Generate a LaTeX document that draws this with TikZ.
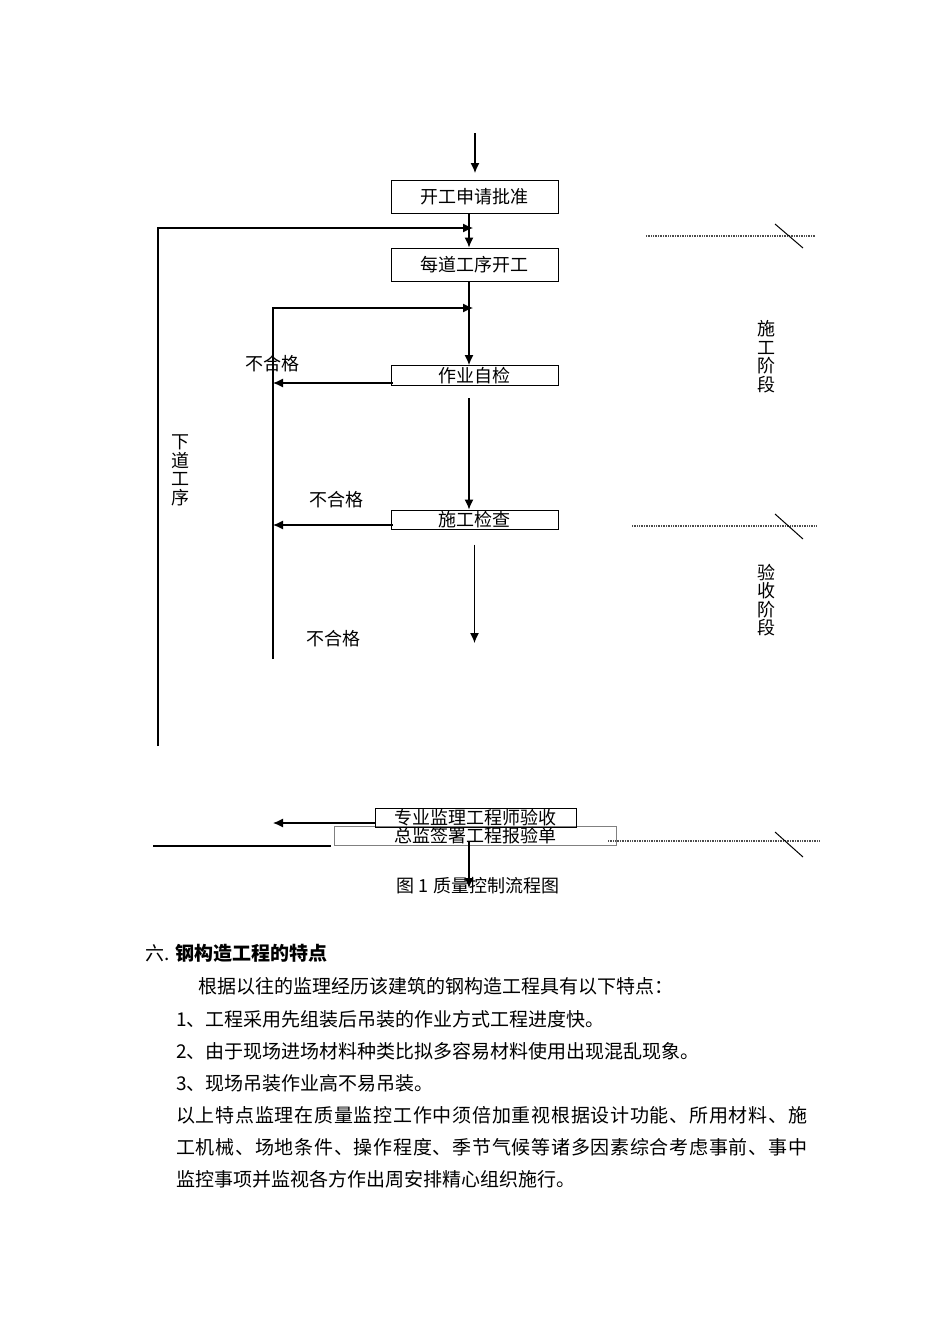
\documentclass[tikz,border=0pt]{standalone}
\usepackage{fontspec}
\setmainfont{Noto Sans CJK SC}
\usepackage{tikz}
\usetikzlibrary{positioning, calc, arrows.meta}

\begin{document}
\begin{tikzpicture}[x=1pt, y=-1pt,
  box/.style={draw, line width=1pt, inner sep=0pt, font=\fontsize{18}{20}\selectfont},
  arr/.style={line width=1.2pt, -{Latex[length=10pt,width=9pt]}},
  rule/.style={line width=1.2pt},
  dots/.style={black!70, line width=1.1pt, dash pattern=on 1pt off 0.7pt},
  tick/.style={line width=1pt},
  lbl/.style={inner sep=0pt, font=\fontsize{18}{20}\selectfont},
  vlbl/.style={inner sep=0pt, align=center, font=\fontsize{18}{18.5}\selectfont},
  para/.style={anchor=west, inner sep=0pt, font=\fontsize{19}{20}\selectfont}]
  \useasboundingbox[fill=white] (0,0) rectangle (950,1344);
  % Helper columns
  \coordinate (axis) at (469,0);
  \coordinate (lx) at (273,0);
  % Boxes
  \node[box, minimum width=167, minimum height=33] (apply) at (474.5,196.5) {开工申请批准};
  \node[box, minimum width=167, minimum height=33] (each) at (474.5,264.5) {每道工序开工};
  \node[box, minimum width=167, minimum height=20] (self) at (474.5,375.5) {作业自检};
  \node[box, minimum width=167, minimum height=19] (check) at (474.5,519.5) {施工检查};
  \node[box, draw=gray, minimum width=282, minimum height=19] (chief) at (475,835.5) {总监签署工程报验单};
  \node[box, minimum width=201, minimum height=19] (expert) at (475.5,817.5) {专业监理工程师验收};
  % Free ends
  \coordinate (start) at (475,133);
  \coordinate (starttip) at (475,173);
  \coordinate (outB) at (158,746);
  \coordinate (outT) at (473,228);
  \coordinate (inB) at (273,659);
  \coordinate (inT) at (473,308);
  \coordinate (down) at (474.5,643);
  \coordinate (baseL) at (153,846);
  \coordinate (baseR) at (331,846);
  \coordinate (finish) at (469,888);
  % Main flow
  \draw[arr] (start) -- (starttip);
  \draw[arr] (apply.south -| axis) -- (each.north -| axis);
  \draw[arr] (each.south -| axis) -- (self.north -| axis);
  \draw[arr] ($(self.south -| axis)+(0,12)$) -- (check.north -| axis);
  \draw[arr] ($(check.south)+(0,15)$) -- (down);
  \draw[arr] ($(chief.center -| axis)+(0,6.5)$) -- (finish);
  % Loops back
  \draw[arr] (outB) |- (outT);
  \draw[arr] (inB) |- (inT);
  \draw[arr] ($(self.west)+(2,7.5)$) -- ($(self.west -| lx)+(0,7.5)$);
  \draw[arr] ($(check.west)+(2,5.5)$) -- ($(check.west -| lx)+(0,5.5)$);
  \draw[arr] ($(expert.west)+(0,5.5)$) -- ($(expert.west -| lx)+(0,5.5)$);
  \draw[rule] (baseL) -- (baseR);
  % Labels
  \node[lbl] (fail1) at (272,364) {不合格};
  \node[lbl] (fail2) at (336,500) {不合格};
  \node[lbl] (fail3) at (333,639) {不合格};
  \node[vlbl] (next) at (180,470.5) {下\\道\\工\\序};
  % Stage marks
  \draw[dots] (646,236) -- (815,236);
  \draw[tick] (775,224) -- (803,248);
  \node[vlbl] (stage1) at (766,356.5) {施\\工\\阶\\段};
  \draw[dots] (632,526) -- (817,526);
  \draw[tick] (775,514) -- (803,539);
  \node[vlbl] (stage2) at (766,600) {验\\收\\阶\\段};
  \draw[dots] (608,841) -- (820,841);
  \draw[tick] (775,832) -- (803,857);
  % Caption
  \node[lbl] (cap) at (478,886) {图 1 质量控制流程图};
  % Text below
  \node[para] (h6) at (145,953) {六. \textbf{钢构造工程的特点}};
  \node[para] (p0) at (198,986) {根据以往的监理经历该建筑的钢构造工程具有以下特点：};
  \node[para] (p1) at (176,1019) {1、工程采用先组装后吊装的作业方式工程进度快。};
  \node[para] (p2) at (176,1051) {2、由于现场进场材料种类比拟多容易材料使用出现混乱现象。};
  \node[para] (p3) at (176,1083) {3、现场吊装作业高不易吊装。};
  \node[para] (p4) at (176,1115) {\addfontfeatures{LetterSpace=3.9}以上特点监理在质量监控工作中须倍加重视根据设计功能、所用材料、施};
  \node[para] (p5) at (176,1147) {\addfontfeatures{LetterSpace=3.9}工机械、场地条件、操作程度、季节气候等诸多因素综合考虑事前、事中};
  \node[para] (p6) at (176,1179) {监控事项并监视各方作出周安排精心组织施行。};
\end{tikzpicture}
\end{document}
